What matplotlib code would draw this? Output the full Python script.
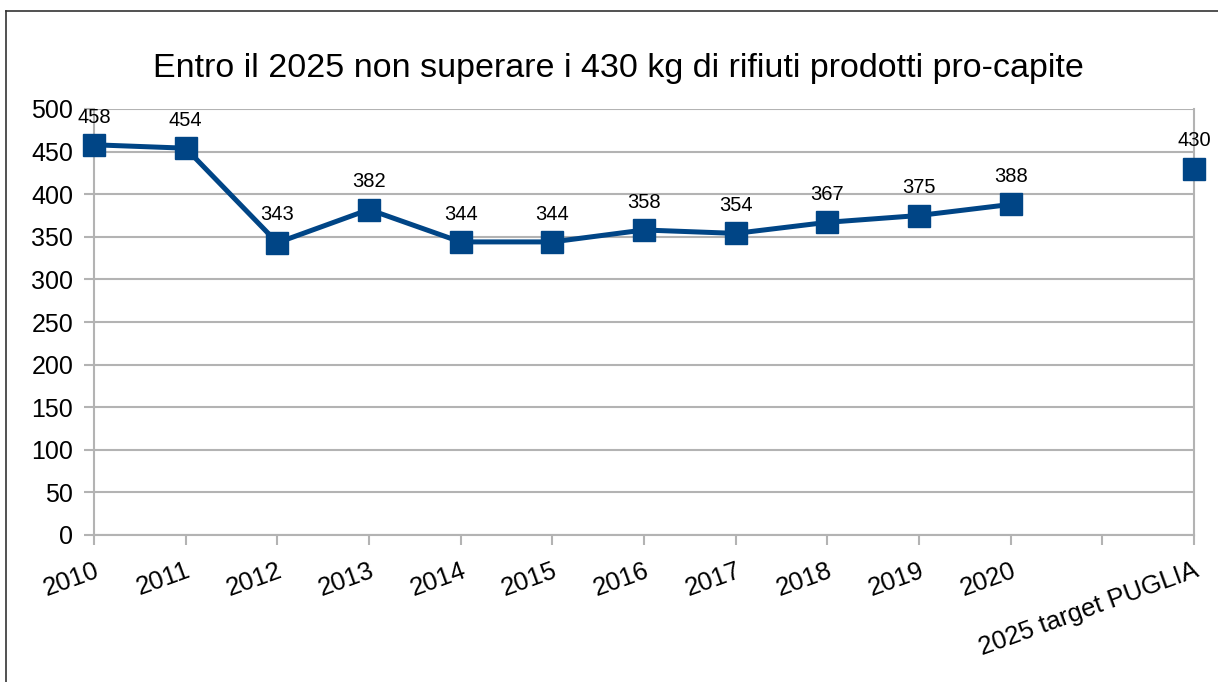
import matplotlib
matplotlib.use("Agg")
import matplotlib.pyplot as plt
from matplotlib.lines import Line2D
import numpy as np

plt.rcParams['font.family'] = ['Liberation Sans', 'DejaVu Sans']

categories = ["2010", "2011", "2012", "2013", "2014", "2015", "2016", "2017",
              "2018", "2019", "2020", "", "2025 target PUGLIA"]
values = [458, 454, 343, 382, 344, 344, 358, 354, 367, 375, 388]
target_value = 430
yticks = list(range(0, 501, 50))
title = "Entro il 2025 non superare i 430 kg di rifiuti prodotti pro-capite"

W, H = 1218, 682
fig = plt.figure(figsize=(W / 100, H / 100), dpi=100)
ax = fig.add_axes([94 / W, 1 - 535 / H, (1194 - 94) / W, (535 - 109) / H])

blue = "#004586"
grey = "#b3b3b3"

x = np.arange(len(categories))
ax.plot(x[:len(values)], values, color=blue, lw=3.6, marker="s", ms=16.5,
        zorder=3, clip_on=False)
ax.plot([x[-1]], [target_value], color=blue, lw=0, marker="s", ms=16.5,
        zorder=3, clip_on=False)

for xi, v in zip(x[:len(values)], values):
    ax.annotate(str(v), (xi, v), xytext=(0, 20), textcoords="offset points",
                ha="center", va="center", fontsize=14.5, color="#000000")
ax.annotate(str(target_value), (x[-1], target_value), xytext=(0, 20),
            textcoords="offset points", ha="center", va="center",
            fontsize=14.5, color="#000000")

ax.set_xlim(0, len(categories) - 1)
ax.set_ylim(0, 500)
ax.set_yticks(yticks)
ax.set_yticklabels([str(t) for t in yticks], fontsize=18)
ax.set_xticks(x)
ax.set_xticklabels(categories, fontsize=18.5, rotation=20, ha="right",
                   va="top", rotation_mode="anchor")
ax.tick_params(axis="both", colors=grey, labelcolor="#000000", length=7,
               width=1.5, direction="out")
ax.tick_params(axis="y", pad=8)
ax.tick_params(axis="x", pad=10)

ax.grid(True, axis="y", color=grey, lw=1.5)
ax.grid(True, axis="x", color=grey, lw=0)
for side in ["left", "right", "bottom", "top"]:
    ax.spines[side].set_color(grey)
    ax.spines[side].set_linewidth(1.5)
ax.spines["top"].set_visible(False)

fig.text(618 / W, 1 - 68 / H, title, ha="center", va="center", fontsize=24.5)

# outer border (top and left only visible)
fig.add_artist(Line2D([6 / W, 6 / W], [0, 1 - 11 / H], transform=fig.transFigure,
                      color="#333333", lw=1.2))
fig.add_artist(Line2D([6 / W, 1], [1 - 11 / H, 1 - 11 / H], transform=fig.transFigure,
                      color="#333333", lw=1.2))

fig.savefig("out.png", dpi=100, facecolor="white")
